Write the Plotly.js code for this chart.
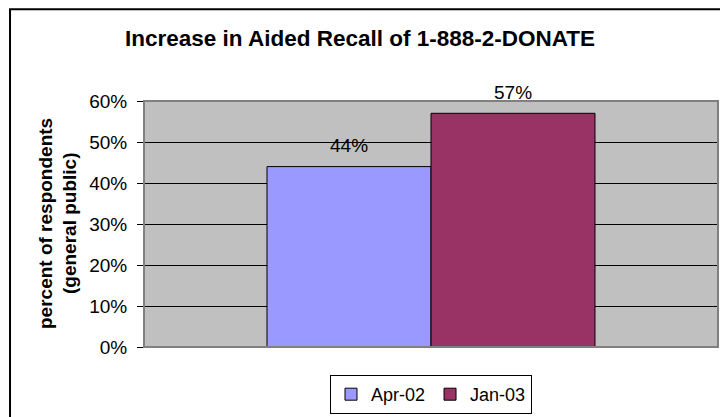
<!DOCTYPE html>
<html>
<head>
<meta charset="utf-8">
<script src="https://cdn.plot.ly/plotly-3.0.1.min.js"></script>
<style>html,body{margin:0;padding:0;background:#fff;}#chart{width:720px;height:417px;}</style>
</head>
<body>
<div id="chart"></div>
<script>
var categories = ['All'];
var seriesNames = ['Apr-02', 'Jan-03'];
var seriesValues = [[0.44], [0.57]];
var seriesColors = ['#9999FF', '#993366'];
var yTickVals = [0, 0.1, 0.2, 0.3, 0.4, 0.5, 0.6];
var yTickText = ['0%', '10%', '20%', '30%', '40%', '50%', '60%'];

var FONT = 'Arial, "Liberation Sans", sans-serif';

var traces = seriesNames.map(function (n, i) {
  return {
    type: 'bar',
    name: n,
    x: categories,
    y: seriesValues[i],
    marker: { color: seriesColors[i], line: { color: '#000', width: 1 } },
    hoverinfo: 'skip'
  };
});

var shifts = [-82, 82];
var annotations = [];
seriesNames.forEach(function (n, i) {
  seriesValues[i].forEach(function (v, j) {
    annotations.push({
      x: categories[j], y: v, xref: 'x', yref: 'y',
      text: Math.round(v * 100) + '%',
      showarrow: false, xshift: shifts[i], yshift: 21,
      yanchor: 'middle', xanchor: 'center',
      font: { family: FONT, size: 19, color: '#000' }
    });
  });
});
annotations.push({
  xref: 'paper', yref: 'paper', x: 0, y: 0.5, xshift: -99,
  text: '<b>percent of respondents</b>', textangle: -90, showarrow: false,
  xanchor: 'center', yanchor: 'middle',
  font: { family: FONT, size: 19, color: '#000' }
});
annotations.push({
  xref: 'paper', yref: 'paper', x: 0, y: 0.5, xshift: -75,
  text: '<b>(general public)</b>', textangle: -90, showarrow: false,
  xanchor: 'center', yanchor: 'middle',
  font: { family: FONT, size: 19, color: '#000' }
});

var layout = {
  width: 720, height: 417,
  margin: { l: 144, r: 2, t: 101, b: 70, pad: 0, autoexpand: false },
  paper_bgcolor: '#fff',
  plot_bgcolor: '#C0C0C0',
  font: { family: FONT, size: 19, color: '#000' },
  title: {
    text: '<b>Increase in Aided Recall of 1-888-2-DONATE</b>',
    font: { family: FONT, size: 22.5, color: '#000' },
    xref: 'container', x: 0.5, xanchor: 'center',
    yref: 'container', y: 1 - 38 / 417, yanchor: 'middle'
  },
  barmode: 'group',
  bargap: 0.4286,
  bargroupgap: 0,
  xaxis: {
    type: 'category', showticklabels: false, ticks: '', showgrid: false,
    zeroline: false, showline: false, fixedrange: true
  },
  yaxis: {
    range: [0, 0.6], tickvals: yTickVals, ticktext: yTickText,
    ticks: 'outside', ticklen: 6, tickwidth: 1, tickcolor: '#000',
    ticklabelstandoff: 6,
    showgrid: true, gridcolor: '#000', gridwidth: 1,
    zeroline: false, showline: false,
    tickfont: { family: FONT, size: 19, color: '#000' }
  },
  showlegend: true,
  legend: {
    orientation: 'h', x: 0.5, xanchor: 'center',
    yref: 'container', y: 1 - 414 / 417, yanchor: 'bottom',
    bordercolor: '#000', borderwidth: 1, bgcolor: '#fff',
    font: { family: FONT, size: 18, color: '#000' },
    itemwidth: 30,
    traceorder: 'normal'
  },
  shapes: [
    { type: 'rect', xref: 'paper', yref: 'paper', x0: 0, x1: 1, y0: 0, y1: 1,
      line: { color: '#808080', width: 2 }, fillcolor: 'rgba(0,0,0,0)', layer: 'above' },
    { type: 'rect', xref: 'paper', yref: 'paper', x0: -0.2334, x1: 1.2, y0: -0.5, y1: 1.3728,
      line: { color: '#000', width: 2 }, fillcolor: 'rgba(0,0,0,0)', layer: 'above' }
  ],
  annotations: annotations
};

Plotly.newPlot('chart', traces, layout, { displayModeBar: false, staticPlot: true });
</script>
</body>
</html>
